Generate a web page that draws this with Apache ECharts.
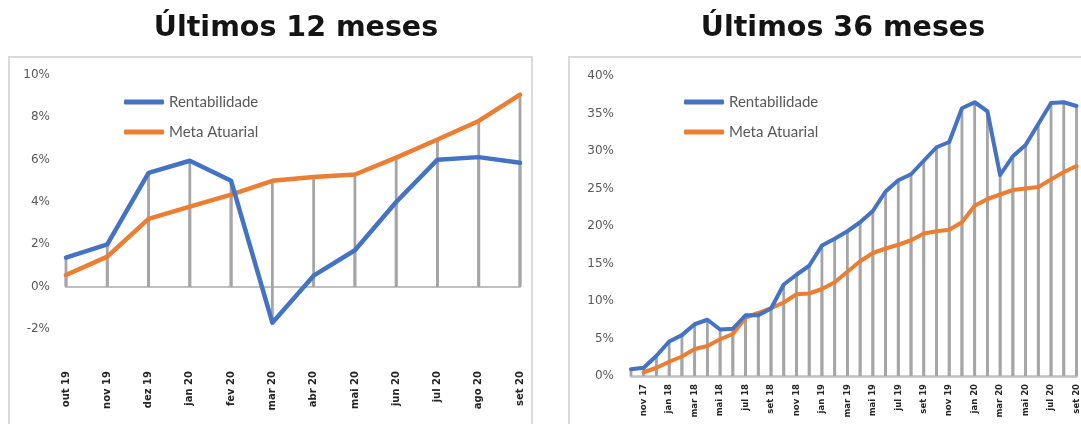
<!DOCTYPE html>
<html>
<head>
<meta charset="utf-8">
<script src="https://cdn.jsdelivr.net/npm/echarts@6/dist/echarts.min.js"></script>
<style>
html,body{margin:0;padding:0;background:#fff;}
#c{width:1081px;height:424px;}
</style>
</head>
<body>
<div id="c"></div>
<script>
// ---- Data ----
const months12 = ['out 19','nov 19','dez 19','jan 20','fev 20','mar 20','abr 20','mai 20','jun 20','jul 20','ago 20','set 20'];
const rent12 = [1.37, 2.0, 5.38, 5.95, 5.0, -1.7, 0.52, 1.72, 4.0, 6.0, 6.12, 5.85];
const meta12 = [0.55, 1.42, 3.2, 3.78, 4.35, 5.0, 5.18, 5.3, 6.1, 6.95, 7.83, 9.07];

const months36 = ['out 17','nov 17','dez 17','jan 18','fev 18','mar 18','abr 18','mai 18','jun 18','jul 18','ago 18','set 18',
  'out 18','nov 18','dez 18','jan 19','fev 19','mar 19','abr 19','mai 19','jun 19','jul 19','ago 19','set 19',
  'out 19','nov 19','dez 19','jan 20','fev 20','mar 20','abr 20','mai 20','jun 20','jul 20','ago 20','set 20'];
const rent36 = [0.9, 1.1, 2.7, 4.6, 5.45, 6.9, 7.5, 6.2, 6.3, 8.1, 8.1, 9.0,
  12.2, 13.5, 14.7, 17.4, 18.3, 19.3, 20.5, 22.0, 24.6, 26.1, 26.9, 28.7,
  30.5, 31.2, 35.7, 36.5, 35.3, 26.8, 29.3, 30.8, 33.6, 36.4, 36.5, 36.0];
const meta36 = [null, 0.5, 1.1, 1.9, 2.6, 3.6, 4.0, 4.9, 5.6, 7.8, 8.4, 9.05,
  9.8, 10.9, 11.0, 11.6, 12.5, 13.9, 15.3, 16.4, 17.0, 17.5, 18.1, 19.0,
  19.3, 19.5, 20.5, 22.7, 23.6, 24.2, 24.8, 25.0, 25.2, 26.2, 27.2, 28.0];

const yTicks12 = {min: -2, max: 10, interval: 2};
const yTicks36 = {min: 0, max: 40, interval: 5};

const titles = ['Últimos 12 meses', 'Últimos 36 meses'];
const legendNames = ['Rentabilidade', 'Meta Atuarial'];

// ---- Styles ----
const BLUE = '#4472C4', ORANGE = '#ED7D31', DROP = '#A5A5A5', AXIS = '#BFBFBF';
const LABEL_GRAY = '#595959';

function dropData(a, b) { return a.map((v, i) => [i, v, b[i]]); }

function dropRender(params, api) {
  const i = api.value(0);
  const p0 = api.coord([i, 0]);
  const children = [];
  [api.value(1), api.value(2)].forEach(v => {
    if (v === null || v === undefined || isNaN(v)) return;
    const p = api.coord([i, v]);
    children.push({type: 'line', shape: {x1: p0[0], y1: p0[1], x2: p[0], y2: p[1]},
      style: {stroke: DROP, lineWidth: 2.8}});
  });
  return {type: 'group', children};
}

const chart = echarts.init(document.getElementById('c'), null, {renderer: 'canvas'});

const yLabel = {color: LABEL_GRAY, fontFamily: 'DejaVu Sans', fontSize: 12, formatter: '{value}%'};
const legendText = {color: LABEL_GRAY, fontFamily: 'Lato', fontSize: 15, lineHeight: 18};

const option = {
  animation: false,
  backgroundColor: '#fff',
  graphic: [
    {type: 'rect', shape: {x: 9, y: 57, width: 523, height: 380}, style: {fill: 'none', stroke: '#D9D9D9', lineWidth: 2}, z: -10},
    {type: 'rect', shape: {x: 569, y: 57, width: 530, height: 380}, style: {fill: 'none', stroke: '#D9D9D9', lineWidth: 2}, z: -10},
    {type: 'text', x: 296, y: 29, style: {text: titles[0], fill: '#141414', font: 'bold 28.5px "DejaVu Sans"', align: 'center', verticalAlign: 'middle'}},
    {type: 'text', x: 843, y: 29, style: {text: titles[1], fill: '#141414', font: 'bold 28.5px "DejaVu Sans"', align: 'center', verticalAlign: 'middle'}}
  ],
  legend: [
    {data: legendNames, orient: 'vertical', left: 119, top: 88, itemWidth: 40, itemHeight: 5, itemGap: 12, icon: 'roundRect',
     textStyle: legendText, selectedMode: false},
    {data: legendNames, orient: 'vertical', left: 679, top: 88, itemWidth: 40, itemHeight: 5, itemGap: 12, icon: 'roundRect',
     textStyle: legendText, selectedMode: false}
  ],
  grid: [
    {left: 66, top: 75, width: 454, height: 254},
    {left: 631, top: 76, width: 453, height: 300}
  ],
  xAxis: [
    {type: 'category', gridIndex: 0, data: months12, boundaryGap: false, position: 'bottom',
     axisLine: {show: false, onZero: false}, axisTick: {show: false}, splitLine: {show: false},
     axisLabel: {interval: 0, rotate: 90, margin: 42, color: '#262626', fontFamily: 'DejaVu Sans', fontWeight: 'bold', fontSize: 10}},
    {type: 'category', gridIndex: 0, data: months12, boundaryGap: false,
     axisLine: {show: true, onZero: true, lineStyle: {color: AXIS, width: 2}}, axisTick: {show: false}, axisLabel: {show: false}, splitLine: {show: false}},
    {type: 'category', gridIndex: 1, data: months36, boundaryGap: false,
     axisLine: {show: true, lineStyle: {color: AXIS, width: 2.5}}, axisTick: {show: false}, splitLine: {show: false},
     axisLabel: {interval: function (i) { return i % 2 === 1; }, rotate: 90, margin: 8, color: '#262626', fontFamily: 'DejaVu Sans', fontWeight: 'bold', fontSize: 8.5}}
  ],
  yAxis: [
    {type: 'value', gridIndex: 0, min: yTicks12.min, max: yTicks12.max, interval: yTicks12.interval,
     axisLine: {show: false}, axisTick: {show: false}, splitLine: {show: false}, axisLabel: Object.assign({margin: 16}, yLabel)},
    {type: 'value', gridIndex: 1, min: yTicks36.min, max: yTicks36.max, interval: yTicks36.interval,
     axisLine: {show: false}, axisTick: {show: false}, splitLine: {show: false}, axisLabel: Object.assign({margin: 17}, yLabel)}
  ],
  series: [
    {type: 'custom', name: 'drop12', xAxisIndex: 0, yAxisIndex: 0, data: dropData(rent12, meta12),
     encode: {x: 0, y: [1, 2]}, renderItem: dropRender, z: 1, silent: true},
    {type: 'line', name: 'Rentabilidade', xAxisIndex: 0, yAxisIndex: 0, data: rent12, showSymbol: false, symbol: 'none',
     lineStyle: {color: BLUE, width: 4.5, cap: 'round', join: 'round'}, itemStyle: {color: BLUE}, z: 4},
    {type: 'line', name: 'Meta Atuarial', xAxisIndex: 0, yAxisIndex: 0, data: meta12, showSymbol: false, symbol: 'none',
     lineStyle: {color: ORANGE, width: 4.5, cap: 'round', join: 'round'}, itemStyle: {color: ORANGE}, z: 3},
    {type: 'custom', name: 'drop36', xAxisIndex: 2, yAxisIndex: 1, data: dropData(rent36, meta36),
     encode: {x: 0, y: [1, 2]}, renderItem: dropRender, z: 1, silent: true},
    {type: 'line', name: 'Rentabilidade', xAxisIndex: 2, yAxisIndex: 1, data: rent36, showSymbol: false, symbol: 'none',
     lineStyle: {color: BLUE, width: 4, cap: 'round', join: 'round'}, itemStyle: {color: BLUE}, z: 4},
    {type: 'line', name: 'Meta Atuarial', xAxisIndex: 2, yAxisIndex: 1, data: meta36, showSymbol: false, symbol: 'none',
     lineStyle: {color: ORANGE, width: 4, cap: 'round', join: 'round'}, itemStyle: {color: ORANGE}, z: 3}
  ]
};
chart.setOption(option);
</script>
</body>
</html>
